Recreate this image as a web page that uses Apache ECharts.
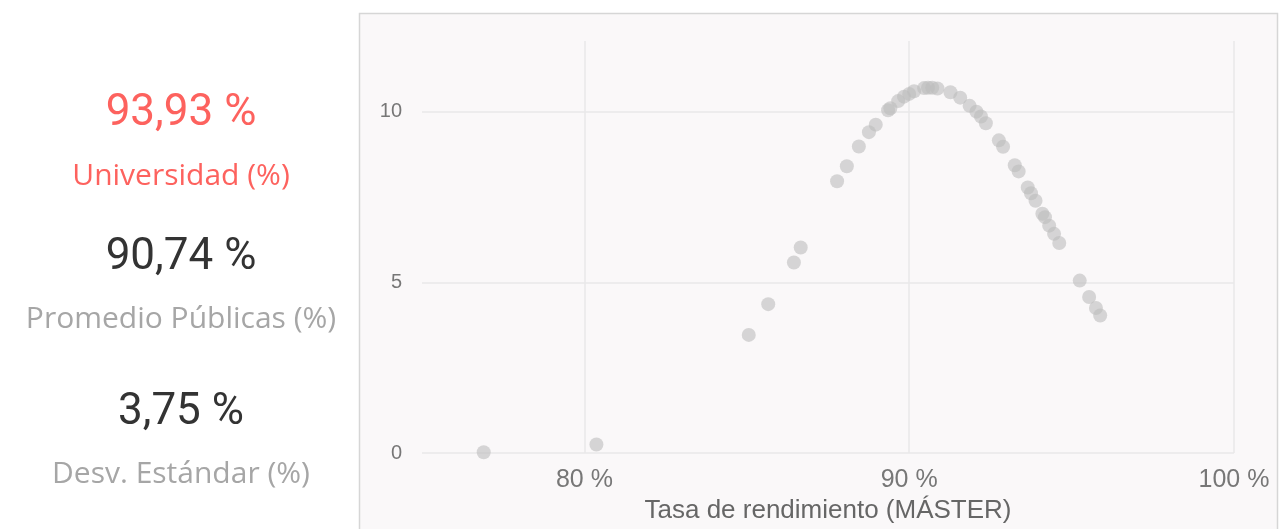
<!DOCTYPE html>
<html>
<head>
<meta charset="utf-8">
<script src="https://cdn.jsdelivr.net/npm/echarts@6/dist/echarts.min.js"></script>
<style>
html,body{margin:0;padding:0;background:#ffffff;}
#chart{width:1282px;height:529px;}
</style>
</head>
<body>
<div id="chart"></div>
<script>
// KPI values
const kpiValues = ['93,93 %', '90,74 %', '3,75 %'];
const kpiLabels = ['Universidad (%)', 'Promedio Públicas (%)', 'Desv. Estándar (%)'];

// Scatter: x = Tasa de rendimiento (%), y = densidad
const rate = [76.90, 80.37, 85.06, 85.66, 86.45, 86.66, 87.78, 88.08, 88.45, 88.76,
  88.97, 89.35, 89.42, 89.66, 89.84, 90.00, 90.15, 90.46, 90.58, 90.71,
  90.87, 91.27, 91.57, 91.86, 92.07, 92.21, 92.36, 92.76, 92.89, 93.25,
  93.37, 93.65, 93.75, 93.89, 94.10, 94.18, 94.31, 94.46, 94.62, 95.25,
  95.54, 95.75, 95.88];
const density = [0.02, 0.25, 3.46, 4.36, 5.58, 6.02, 7.96, 8.40, 8.98, 9.40,
  9.62, 10.04, 10.10, 10.31, 10.44, 10.52, 10.60, 10.69, 10.70, 10.70,
  10.68, 10.57, 10.41, 10.17, 10.00, 9.86, 9.66, 9.16, 8.97, 8.43,
  8.25, 7.78, 7.61, 7.39, 7.01, 6.91, 6.66, 6.42, 6.15, 5.05,
  4.57, 4.25, 4.03];

const xTicks = [80, 90, 100];
const axisTitle = 'Tasa de rendimiento (MÁSTER)';

const points = rate.map((r, i) => [r, density[i]]);

const chart = echarts.init(document.getElementById('chart'), null, {renderer: 'canvas'});

const kpiValueY = [114, 258, 413];
const kpiLabelY = [176, 319, 474];
const kpiColors = ['#fd625e', '#333333', '#333333'];
const labelColors = ['#fd625e', '#a6a6a6', '#a6a6a6'];

const graphics = [
  {
    type: 'rect', z: -10, silent: true,
    shape: {x: 359.5, y: 13.5, width: 918, height: 600},
    style: {fill: '#faf8f9', stroke: '#d6d6d6', lineWidth: 1.5}
  }
];
kpiValues.forEach((v, i) => {
  graphics.push({
    type: 'text', x: 181, y: kpiValueY[i], silent: true,
    style: {text: v, fill: kpiColors[i], font: '44px Roboto', textAlign: 'center', textVerticalAlign: 'middle'}
  });
  graphics.push({
    type: 'text', x: 181, y: kpiLabelY[i], silent: true,
    style: {text: kpiLabels[i], fill: labelColors[i], font: '30px "Open Sans"', textAlign: 'center', textVerticalAlign: 'middle'}
  });
});

chart.setOption({
  animation: false,
  graphic: graphics,
  grid: {left: 422, right: 48, top: 41, bottom: 76, containLabel: false},
  xAxis: {
    type: 'value', min: 75, max: 100, interval: 5,
    name: axisTitle, nameLocation: 'middle', nameGap: 42,
    nameTextStyle: {fontFamily: 'Liberation Sans', fontSize: 26, color: '#666666'},
    axisLine: {show: false}, axisTick: {show: false},
    axisLabel: {
      fontFamily: 'Liberation Sans', fontSize: 25, color: '#777777', margin: 15,
      formatter: v => (xTicks.indexOf(v) >= 0 ? v + ' %' : '')
    },
    splitLine: {show: true, lineStyle: {color: ['rgba(0,0,0,0)', '#e9e8e9'], width: 1.5}}
  },
  yAxis: {
    type: 'value', min: 0, max: 12.07, interval: 5,
    axisLine: {show: false}, axisTick: {show: false},
    axisLabel: {fontFamily: 'Liberation Sans', fontSize: 20, color: '#777777', margin: 20, showMaxLabel: false},
    splitLine: {show: true, showMaxLine: false, lineStyle: {color: '#e9e8e9', width: 1.5}}
  },
  series: [{
    type: 'scatter',
    data: points,
    symbolSize: 14,
    clip: false,
    itemStyle: {color: 'rgba(188,188,188,0.75)'}
  }]
});
</script>
</body>
</html>
